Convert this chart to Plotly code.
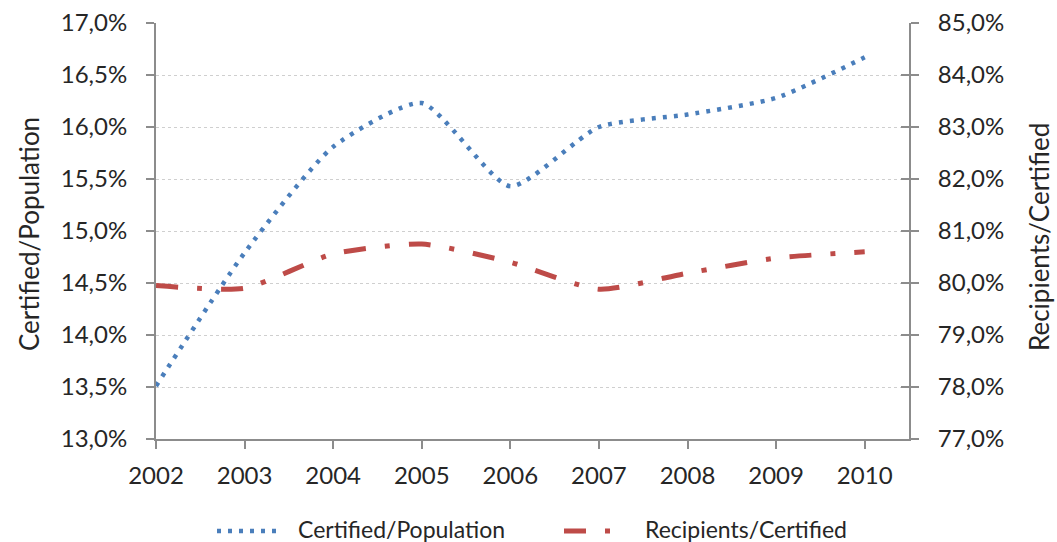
import plotly.graph_objects as go

# Survey years
years = [2002, 2003, 2004, 2005, 2006, 2007, 2008, 2009, 2010]

# Share of population certified (%)
certified_population = [13.51, 14.79, 15.81, 16.23, 15.43, 16.0, 16.12, 16.28, 16.67]

# Share of certified who became recipients (%)
recipients_certified = [79.95, 79.9, 80.56, 80.75, 80.4, 79.88, 80.19, 80.48, 80.6]

left_ticks = [13.0, 13.5, 14.0, 14.5, 15.0, 15.5, 16.0, 16.5, 17.0]
right_ticks = [77.0, 78.0, 79.0, 80.0, 81.0, 82.0, 83.0, 84.0, 85.0]


def pct_label(v):
    return f"{v:.1f}%".replace(".", ",")


FONT = "Lato, 'Open Sans', sans-serif"
TEXT = "#262626"
AXIS = "#8c8c8c"
BLUE = "#4a7ebb"
RED = "#be4b48"
BLUE_DASH = "4px,7px"
RED_DASH = "22px,19px,5px,19px"

W, H = 1057, 542
ML, MR, MT, MB = 156, 148, 23, 103
PW, PH = W - ML - MR, H - MT - MB


def px_x(x):
    return (x - ML) / PW


def px_y(y):
    return (H - MB - y) / PH


fig = go.Figure()

fig.add_trace(go.Scatter(
    x=years, y=certified_population, name="Certified/Population",
    mode="lines", line=dict(color=BLUE, width=4.5, dash=BLUE_DASH,
                            shape="spline", smoothing=0.6),
    yaxis="y", showlegend=False,
))
fig.add_trace(go.Scatter(
    x=years, y=recipients_certified, name="Recipients/Certified",
    mode="lines", line=dict(color=RED, width=5, dash=RED_DASH,
                            shape="spline", smoothing=0.6),
    yaxis="y2", showlegend=False,
))
# dummy trace so the inner-tick axis is drawn
fig.add_trace(go.Scatter(x=[None], y=[None], yaxis="y3", showlegend=False,
                         hoverinfo="skip"))

tick_font = dict(family=FONT, size=24, color=TEXT)

fig.update_layout(
    width=W, height=H,
    margin=dict(l=ML, r=MR, t=MT, b=MB, autoexpand=False),
    paper_bgcolor="white", plot_bgcolor="white",
    font=dict(family=FONT, size=24, color=TEXT),
    showlegend=False,
    xaxis=dict(
        range=[2002, 2010.5], tickmode="array", tickvals=years,
        ticktext=[str(y) for y in years],
        showgrid=False, zeroline=False, automargin=False,
        showline=True, linecolor=AXIS, linewidth=2,
        ticks="outside", ticklen=8, tickcolor=AXIS, tickwidth=2,
        tickfont=tick_font, ticklabelstandoff=6,
    ),
    yaxis=dict(
        range=[13, 17], tickmode="array", tickvals=left_ticks,
        ticktext=[pct_label(v) for v in left_ticks],
        showgrid=True, gridcolor="#cfcfcf", griddash="dot", gridwidth=1,
        zeroline=False, automargin=False,
        showline=True, linecolor=AXIS, linewidth=2,
        ticks="outside", ticklen=8, tickcolor=AXIS, tickwidth=2,
        tickfont=tick_font, ticklabelstandoff=14,
    ),
    yaxis2=dict(
        range=[77, 85], tickmode="array", tickvals=right_ticks,
        ticktext=[pct_label(v) for v in right_ticks],
        overlaying="y", side="right", anchor="x",
        showgrid=False, zeroline=False, automargin=False,
        showline=True, linecolor=AXIS, linewidth=2,
        ticks="outside", ticklen=8, tickcolor=AXIS, tickwidth=2,
        tickfont=tick_font, ticklabelstandoff=14,
    ),
    # inner half of the crossing tick marks on the right axis
    yaxis3=dict(
        range=[77, 85], tickmode="array", tickvals=right_ticks,
        overlaying="y", side="right", anchor="x",
        showgrid=False, zeroline=False, showline=False, showticklabels=False,
        ticks="inside", ticklen=8, tickcolor=AXIS, tickwidth=2, automargin=False,
    ),
)

# axis titles
fig.add_annotation(text="Certified/Population", textangle=-90,
                   x=px_x(29), y=px_y(234), xref="paper", yref="paper",
                   xanchor="center", yanchor="middle",
                   showarrow=False, font=dict(size=26, color=TEXT))
fig.add_annotation(text="Recipients/Certified", textangle=-90,
                   x=px_x(1039), y=px_y(237), xref="paper", yref="paper",
                   xanchor="center", yanchor="middle",
                   showarrow=False, font=dict(size=26, color=TEXT))

# legend below the plot
LEG_Y = 529
legend_items = [
    ("Certified/Population", BLUE, 4.5, BLUE_DASH, 217, 283, 296),
    ("Recipients/Certified", RED, 5, RED_DASH, 564, 612, 643),
]
for label, color, width, dash, x0, x1, tx in legend_items:
    fig.add_shape(type="line", xref="paper", yref="paper",
                  x0=px_x(x0), x1=px_x(x1), y0=px_y(LEG_Y + 2), y1=px_y(LEG_Y + 2),
                  line=dict(color=color, width=width, dash=dash))
    fig.add_annotation(text=label, x=px_x(tx), y=px_y(LEG_Y),
                       xref="paper", yref="paper", xanchor="left",
                       yanchor="middle", showarrow=False,
                       font=dict(size=23, color=TEXT))

fig.write_html("out.html")
